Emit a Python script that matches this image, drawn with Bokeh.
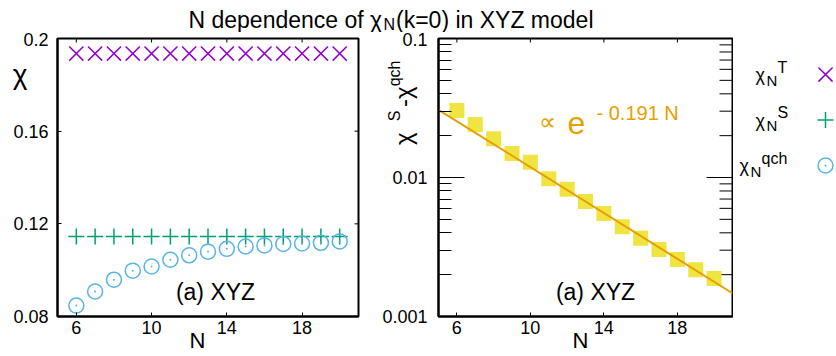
import math
from bokeh.plotting import figure
from bokeh.models import Range1d, FixedTicker, Label, LinearAxis, LogAxis
from bokeh.layouts import column, row
from bokeh.embed import file_html
from bokeh.resources import INLINE

FONT = "Liberation Sans"

# ---------------- data ----------------
n_sites = [6, 7, 8, 9, 10, 11, 12, 13, 14, 15, 16, 17, 18, 19, 20]
chi_T = [0.1935, 0.1935, 0.1935, 0.1935, 0.1935, 0.1935, 0.1935, 0.1935,
         0.1935, 0.1935, 0.1935, 0.1935, 0.1935, 0.1935, 0.1935]
chi_S = [0.1145, 0.1145, 0.1145, 0.1145, 0.1145, 0.1145, 0.1145, 0.1145,
         0.1145, 0.1145, 0.1145, 0.1145, 0.1145, 0.1145, 0.1145]
chi_qch = [0.0847, 0.0908, 0.0959, 0.0998, 0.1016, 0.1045, 0.1064, 0.1080,
           0.1092, 0.1102, 0.1107, 0.1113, 0.1115, 0.1118, 0.1124]
chi_diff = [0.0303, 0.0241, 0.0190, 0.0149, 0.0129, 0.0098, 0.00822, 0.00672,
            0.00550, 0.00443, 0.00366, 0.00303, 0.00257, 0.00217, 0.00188]
fit_n = [5, 21]
fit_y = [0.0307, 0.00147]
fit_label = "- 0.191 N"

n_ticks = [6, 10, 14, 18]
left_yticks = [0.08, 0.12, 0.16, 0.2]
left_ytick_labels = ["0.08", "0.12", "0.16", "0.2"]
right_yticks = [0.001, 0.01, 0.1]
right_ytick_labels = ["0.001", "0.01", "0.1"]
right_yminor = [0.002, 0.003, 0.004, 0.005, 0.006, 0.007, 0.008, 0.009,
                0.02, 0.03, 0.04, 0.05, 0.06, 0.07, 0.08, 0.09]

C_T = "#9400d3"
C_S = "#009e73"
C_Q = "#56b4e9"
C_D = "#f0e442"
C_F = "#e69f00"

X0, X1 = 5, 21
L_Y0, L_Y1 = 0.08, 0.2
R_Y0, R_Y1 = 0.001, 0.1
SHIFT = 0.28  # baseline correction (fraction of font size)

# frame geometry in page pixels
FT, FB = 38, 316
P1L, P1R = 57, 358
P2L, P2R = 438, 732


def fs(size):
    return float(size.replace("px", ""))


def p1_xy(px, py):
    return (X0 + (px - P1L) * (X1 - X0) / (P1R - P1L),
            round(L_Y0 + (FB - py) / (FB - FT) * (L_Y1 - L_Y0), 6))


def p2_xy(px, py):
    return (X0 + (px - P2L) * (X1 - X0) / (P2R - P2L),
            float("%.6g" % (10 ** (-3 + (FB - py) / (FB - FT) * 2))))


def lab(p, conv, px, py, text, size, color="black", align="left"):
    x, y = conv(px, py - SHIFT * fs(size))
    p.add_layout(Label(x=x, y=y, text=text, text_font=FONT, text_font_size=size,
                       text_color=color, text_align=align, text_baseline="alphabetic"))


def style_axis(ax, tick_in, labels, standoff, minor_in=0):
    ax.axis_line_color = "black"
    ax.axis_line_width = 2
    ax.major_tick_in = tick_in
    ax.major_tick_out = 0
    ax.minor_tick_in = minor_in
    ax.minor_tick_out = 0
    ax.major_tick_line_color = "black"
    ax.minor_tick_line_color = "black"
    ax.major_label_text_font = FONT
    ax.major_label_text_color = "black"
    ax.major_label_text_font_size = "18px"
    ax.major_label_standoff = standoff
    ax.major_label_overrides = labels


def text_axis(cls, positions, texts, size, standoff, orientation="horizontal"):
    """An axis that carries only text labels (used for the axis titles)."""
    ax = cls(ticker=FixedTicker(ticks=positions, minor_ticks=[]))
    ax.major_label_overrides = dict(zip(positions, texts))
    ax.major_tick_in = 0
    ax.major_tick_out = 0
    ax.minor_tick_in = 0
    ax.minor_tick_out = 0
    ax.axis_line_color = None
    ax.major_tick_line_color = None
    ax.minor_tick_line_color = None
    ax.major_label_text_font = FONT
    ax.major_label_text_font_size = size
    ax.major_label_text_color = "black"
    ax.major_label_standoff = standoff
    ax.major_label_orientation = orientation
    return ax


def base_fig(width, **kw):
    p = figure(width=width, height=324, output_backend="svg", toolbar_location=None,
               min_border_top=FT - 32, min_border_bottom=356 - FB, **kw)
    p.grid.visible = False
    p.outline_line_color = "black"
    p.outline_line_width = 2
    return p


def mirror_ticks(p, xs, ys, length, vertical):
    # tick marks on the top / right frame edge; the outer half is clipped by the frame
    p.scatter(xs, ys, marker="dash", size=2 * length, line_color="black", line_width=1,
              angle=(math.pi / 2 if vertical else 0.0))


# ---------------- left panel ----------------
p1 = base_fig(372, x_range=Range1d(X0, X1), y_range=Range1d(L_Y0, L_Y1),
              min_border_left=P1L, min_border_right=372 - P1R)
p1.xaxis.ticker = FixedTicker(ticks=n_ticks)
p1.yaxis.ticker = FixedTicker(ticks=left_yticks)
style_axis(p1.xaxis[0], 4, {t: str(t) for t in n_ticks}, 4)
style_axis(p1.yaxis[0], 4, dict(zip(left_yticks, left_ytick_labels)), 9)
mirror_ticks(p1, n_ticks, [L_Y1] * len(n_ticks), 4, True)
mirror_ticks(p1, [X1] * len(left_yticks), left_yticks, 4, False)

p1.scatter(n_sites, chi_T, marker="x", size=20, line_color=C_T, line_width=1.5)
p1.scatter(n_sites, chi_S, marker="cross", size=16, line_color=C_S, line_width=1.5)
p1.scatter(n_sites, chi_qch, marker="circle", size=15, line_color=C_Q,
           fill_color=None, line_width=1.5)
p1.scatter(n_sites, chi_qch, marker="circle", size=2, line_color=None, fill_color=C_Q)

lab(p1, p1_xy, 215, 298, "(a) XYZ", "23px", align="center")

# axis titles
p1.add_layout(text_axis(LinearAxis, [p1_xy(0, 74)[1]], ["χ"], "28px", -17), "left")
p1.add_layout(text_axis(LinearAxis, [round(p1_xy(197, 0)[0], 4)], ["N"], "22px", -9), "below")

# ---------------- right panel ----------------
p2 = base_fig(361, x_range=Range1d(X0, X1), y_range=Range1d(R_Y0, R_Y1),
              y_axis_type="log", min_border_left=P2L - 372, min_border_right=1)
p2.xaxis.ticker = FixedTicker(ticks=n_ticks)
p2.yaxis.ticker = FixedTicker(ticks=right_yticks, minor_ticks=right_yminor)
style_axis(p2.xaxis[0], 4, {t: str(t) for t in n_ticks}, 4)
style_axis(p2.yaxis[0], 26, dict(zip(right_yticks, right_ytick_labels)), 11, minor_in=13)
mirror_ticks(p2, n_ticks, [R_Y1] * len(n_ticks), 4, True)
mirror_ticks(p2, [X1] * len(right_yticks), right_yticks, 26, False)
mirror_ticks(p2, [X1] * len(right_yminor), right_yminor, 13, False)

p2.scatter(n_sites, chi_diff, marker="square", size=15, line_color=None, fill_color=C_D)
p2.line(fit_n, fit_y, line_color=C_F, line_width=2)

lab(p2, p2_xy, 595, 298, "(a) XYZ", "23px", align="center")
lab(p2, p2_xy, 538, 128, "∝", "24px", color=C_F)
lab(p2, p2_xy, 567, 131, "e", "32px", color=C_F)
lab(p2, p2_xy, 596, 118, fit_label, "20px", color=C_F)

# axis titles: chi^S - chi^qch (rotated), N
ROT = math.pi / 2
p2.add_layout(text_axis(LogAxis, [p2_xy(0, 132)[1], p2_xy(0, 86)[1]], ["χ", "-χ"],
                        "24px", -24, ROT), "left")
p2.add_layout(text_axis(LogAxis, [p2_xy(0, 110)[1], p2_xy(0, 60)[1]], ["S", "qch"],
                        "16px", -21, ROT), "left")
p2.add_layout(text_axis(LinearAxis, [round(p2_xy(580, 0)[0], 4)], ["N"], "22px", -9), "below")

# ---------------- legend column ----------------
p3 = figure(width=103, height=324, output_backend="svg", toolbar_location=None,
            x_range=Range1d(733, 836), y_range=Range1d(356, 32),
            x_axis_location=None, y_axis_location=None, min_border=0)
p3.grid.visible = False
p3.outline_line_color = None


def ident(px, py):
    return px, py


legend_rows = [("T", C_T, "x", 20, 74), ("S", C_S, "cross", 16, 127), ("qch", C_Q, "circle", 15, 180)]
for sup, col, mk, sz, yy in legend_rows:
    sup_x = 777 if sup != "qch" else 761
    chi_x = sup_x - 22
    if mk == "circle":
        p3.scatter([825], [yy], marker="circle", size=sz, line_color=col,
                   fill_color=None, line_width=1.5)
        p3.scatter([825], [yy], marker="circle", size=2, line_color=None, fill_color=col)
    else:
        p3.scatter([825], [yy], marker=mk, size=sz, line_color=col, line_width=1.5)
    lab(p3, ident, chi_x, yy + 6, "χ", "18px")
    lab(p3, ident, chi_x + 11, yy + 11, "N", "15px")
    lab(p3, ident, sup_x, yy - 4, sup, "16px")

# ---------------- title ----------------
pt = figure(width=836, height=32, output_backend="svg", toolbar_location=None,
            x_range=Range1d(0, 836), y_range=Range1d(32, 0),
            x_axis_location=None, y_axis_location=None, min_border=0)
pt.grid.visible = False
pt.outline_line_color = None
lab(pt, ident, 188, 26, "N dependence of χ", "23px")
lab(pt, ident, 383, 28.5, "N", "16px")
lab(pt, ident, 593, 26, "(k=0) in XYZ model", "23px", align="right")

layout = column(pt, row(p1, p2, p3))
open("out.html", "w").write(file_html(layout, INLINE))
